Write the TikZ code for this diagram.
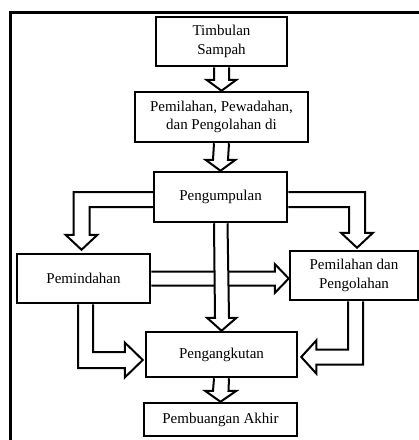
\documentclass[tikz,border=0pt]{standalone}
\usepackage{fontspec}
\setmainfont{Liberation Serif}
\usetikzlibrary{calc}
\tikzset{
  every picture/.style={line width=2pt},
  box/.style={draw, line width=2.5pt, fill=white, align=center, inner sep=2pt, font=\fontsize{15}{18.5}\selectfont},
  blockarrow/.style={draw, fill=white, line width=2pt, line join=miter},
  frame/.style={draw, line width=3pt},
}

\begin{document}
\begin{tikzpicture}[x=1pt, y=-1pt]
  \useasboundingbox (0,0) rectangle (419,440);
  \clip (0,0) rectangle (419,440);
  \draw[frame] (10,12) rectangle (432,452);
  \node[box, minimum width=131pt, minimum height=49pt] (ts) at (221.5,41.5) {Timbulan\\Sampah};
  \node[box, minimum width=173pt, minimum height=50pt] (pw) at (221.5,117) {Pemilahan, Pewadahan,\\dan Pengolahan di};
  \node[box, minimum width=133pt, minimum height=50pt] (pk) at (220.5,197) {Pengumpulan};
  \node[box, minimum width=133pt, minimum height=49pt] (pd) at (83.5,278.5) {Pemindahan};
  \node[box, minimum width=128pt, minimum height=49pt] (po) at (354,275.5) {Pemilahan dan\\Pengolahan};
  \node[box, minimum width=151pt, minimum height=45pt] (pa) at (221.5,354.5) {Pengangkutan};
  \node[box, minimum width=153pt, minimum height=33pt] (pb) at (220.5,419.5) {Pembuangan Akhir};
  \coordinate (lt) at ($(pd.north)+(-2,-3)$);
  \coordinate (rt) at ($(po.north)+(3,-2)$);
  \coordinate (lb) at ($(pa.west)+(-2,5.5)$);
  \coordinate (rb) at ($(pa.east)+(3,2.5)$);
  \draw[blockarrow] ($(ts.south)+(-7.5,0)$) -- ($(pw.north)+(-7.5,-11)$) -- ++(-7.5,0) -- (pw.north) -- ++(15,-11) -- ++(-7.5,0) -- ($(ts.south)+(7.5,0)$);
  \draw[blockarrow] ($(pw.south)+(-7.5,0)$) -- ($(pk.north)+(-7.5,-11)$) -- ++(-7.5,0) -- (pk.north) -- ++(15,-11) -- ++(-7.5,0) -- ($(pw.south)+(7.5,0)$);
  \draw[blockarrow] ($(pk.west)+(0,-5)$) -| ($(lt)+(-8,-15)$) -- ++(-8,0) -- (lt) -- ++(16,-15) -- ++(-8,0) |- ($(pk.west)+(0,10)$);
  \draw[blockarrow] ($(pk.east)+(0,-5)$) -| ($(rt)+(8,-15)$) -- ++(8,0) -- (rt) -- ++(-16,-15) -- ++(8,0) |- ($(pk.east)+(0,10)$);
  \draw[blockarrow] ($(pd.east)+(0,-7)$) -- ($(po.west|-pd.east)+(-14,-7)$) -- ++(0,-7.5) -- (po.west|-pd.east) -- ++(-14,14.5) -- ++(0,-7.5) -- ($(pd.east)+(0,7)$);
  \draw[blockarrow] ($(pk.south)+(-6.5,0)$) -- ($(pa.north)+(-6.5,-13)$) -- ++(-8,0) -- (pa.north) -- ++(15,-13) -- ++(-7.5,0) -- ($(pk.south)+(7,0)$);
  \draw[blockarrow] ($(pd.south)+(-5.5,0)$) |- ($(lb)+(-18,8)$) -- ++(0,9.5) -- (lb) -- ++(-18,-17.5) -- ++(0,9.5) -| ($(pd.south)+(9.5,0)$);
  \draw[blockarrow] ($(po.south)+(9,0)$) |- ($(rb)+(15,7.5)$) -- ++(0,9) -- (rb) -- ++(15,-16.5) -- ++(0,9) -| ($(po.south)+(-6,0)$);
  \draw[blockarrow] ($(pa.south)+(-7.5,0)$) -- ($(pb.north)+(-7.5,-11)$) -- ++(-8,0) -- (pb.north) -- ++(16,-11) -- ++(-8,0) -- ($(pa.south)+(7.5,0)$);
\end{tikzpicture}
\end{document}
